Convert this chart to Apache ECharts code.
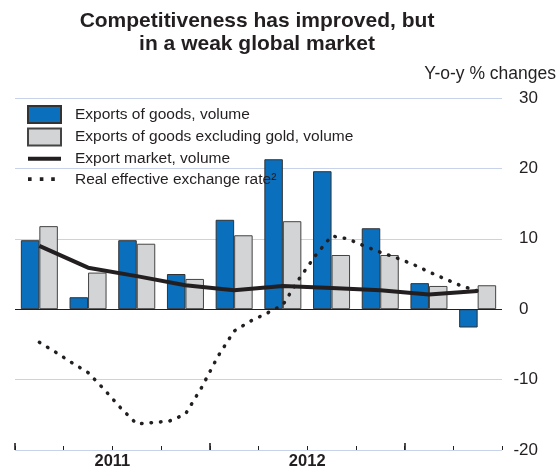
<!DOCTYPE html>
<html>
<head>
<meta charset="utf-8">
<script src="https://cdn.jsdelivr.net/npm/echarts@6/dist/echarts.min.js"></script>
<style>
html,body{margin:0;padding:0;background:#fff;}
#chart{width:559px;height:468px;}
</style>
</head>
<body>
<div id="chart"></div>
<script>
// Quarterly categories (2011 Q1 – 2013 Q2)
var quarters = ['2011Q1','2011Q2','2011Q3','2011Q4','2012Q1','2012Q2','2012Q3','2012Q4','2013Q1','2013Q2'];
// Monthly categories (Jan 2011 – Jun 2013)
var months = ['2011-01','2011-02','2011-03','2011-04','2011-05','2011-06','2011-07','2011-08','2011-09','2011-10','2011-11','2011-12',
              '2012-01','2012-02','2012-03','2012-04','2012-05','2012-06','2012-07','2012-08','2012-09','2012-10','2012-11','2012-12',
              '2013-01','2013-02','2013-03','2013-04','2013-05','2013-06'];
var exportsGoods   = [9.8, 1.7, 9.8, 5.0, 12.7, 21.3, 19.6, 11.5, 3.7, -2.6];
var exportsExGold  = [11.8, 5.2, 9.3, 4.3, 10.5, 12.5, 7.7, 7.7, 3.3, 3.4];
var exportMarket   = [9.0, 5.9, 4.7, 3.4, 2.7, 3.3, 3.0, 2.7, 2.1, 2.6];
var reer = [null, -4.7, -6.1, -7.6, -9.0, -11.4, -14.0, -16.3, -16.1, -15.9, -14.9, -11.1, -6.7,
            -3.1, -1.7, -0.6, 0.6, 4.3, 7.6, 10.4, 10.0, 9.0, 8.1, 7.3, 6.4, 5.3, 4.3, 3.3, 2.6, null];
var yearLabels = {2: '2011', 6: '2012'};
var yTicks = {min: -20, max: 30, interval: 10};

var ink = '#231f20';
var font = 'Liberation Sans';
var solidIcon = 'path://M0,0 L0,0 M0,6.5 H33 V10.5 H0 Z M33,17 L33,17';
var dotIcon = 'path://M0,0 L0,0 M0,6.5 h3.6 v3.6 h-3.6 Z M11.8,6.5 h3.6 v3.6 h-3.6 Z M23.2,6.5 h3.6 v3.6 h-3.6 Z M33,17 L33,17';

var chart = echarts.init(document.getElementById('chart'), null, {renderer: 'canvas'});
chart.setOption({
  animation: false,
  title: [
    {text: 'Competitiveness has improved, but\nin a weak global market', left: 257, top: 10, textAlign: 'center', padding: 0,
     textStyle: {fontFamily: font, fontWeight: 'bold', fontSize: 21, lineHeight: 23, color: ink}},
    {text: 'Y-o-y % changes', right: 3, top: 65, padding: 0,
     textStyle: {fontFamily: font, fontWeight: 'normal', fontSize: 17.5, color: ink}}
  ],
  legend: {
    orient: 'vertical', left: 27, top: 105, padding: 0, itemWidth: 33, itemHeight: 17, itemGap: 3.6,
    textStyle: {fontFamily: font, fontSize: 15.5, lineHeight: 17, color: ink, padding: [0, 0, 0, 9]},
    data: [
      {name: 'Exports of goods, volume', icon: 'rect'},
      {name: 'Exports of goods excluding gold, volume', icon: 'rect'},
      {name: 'Export market, volume', icon: solidIcon, itemStyle: {color: ink, borderWidth: 0}},
      {name: 'Real effective exchange rate²', icon: dotIcon, itemStyle: {color: ink, borderWidth: 0}}
    ]
  },
  grid: {left: 15, right: 57, top: 98, bottom: 18, outerBoundsMode: 'none', containLabel: false},
  xAxis: [
    {type: 'category', data: quarters, gridIndex: 0, position: 'bottom',
     axisLine: {show: false, onZero: false}, axisLabel: {show: false}, splitLine: {show: false},
     axisTick: {show: true, inside: true, length: 4, interval: 0, lineStyle: {color: ink, width: 1}}},
    {type: 'category', data: months, gridIndex: 0, show: false,
     axisLine: {show: false, onZero: false}, axisTick: {show: false}, axisLabel: {show: false}, splitLine: {show: false}},
    {type: 'value', min: 0, max: 10, gridIndex: 0, position: 'bottom',
     axisLine: {show: false, onZero: false}, splitLine: {show: false},
     axisTick: {show: true, inside: true, length: 7, customValues: [0, 4, 8], lineStyle: {color: ink, width: 1.6}},
     axisLabel: {show: true, customValues: [2, 6], margin: 3,
       formatter: function (v) { return yearLabels[v] || ''; },
       fontFamily: font, fontWeight: 'bold', fontSize: 16.5, color: ink}}
  ],
  yAxis: [{
    type: 'value', position: 'right', min: yTicks.min, max: yTicks.max, interval: yTicks.interval,
    axisLine: {show: false}, axisTick: {show: false},
    splitLine: {show: true, lineStyle: {color: '#c8d2ea', width: 1}},
    axisLabel: {align: 'right', margin: 36, fontFamily: font, fontSize: 17, color: ink,
      formatter: function (v) { return v === 0 ? '{z|0}' : String(v); },
      rich: {z: {fontFamily: font, fontSize: 17, color: ink, padding: [0, 9.5, 0, 0]}}}
  }],
  series: [
    {name: 'Exports of goods, volume', type: 'bar', xAxisIndex: 0, yAxisIndex: 0, data: exportsGoods,
     barGap: '0%', barCategoryGap: '24%',
     itemStyle: {color: '#0a6fbc', borderColor: '#333333', borderWidth: 1},
     markLine: {silent: true, symbol: 'none', label: {show: false}, animation: false,
       lineStyle: {color: ink, width: 1.2, type: 'solid'}, data: [{yAxis: 0}]}},
    {name: 'Exports of goods excluding gold, volume', type: 'bar', xAxisIndex: 0, yAxisIndex: 0, data: exportsExGold,
     barGap: '0%', barCategoryGap: '24%',
     itemStyle: {color: '#d3d4d6', borderColor: '#444444', borderWidth: 1}},
    {name: 'Export market, volume', type: 'line', xAxisIndex: 0, yAxisIndex: 0, data: exportMarket,
     symbol: 'none', z: 4, lineStyle: {color: ink, width: 4}, itemStyle: {color: ink}},
    {name: 'Real effective exchange rate²', type: 'line', xAxisIndex: 1, yAxisIndex: 0, data: reer,
     symbol: 'none', z: 5, connectNulls: false,
     lineStyle: {color: ink, width: 3.5, type: [0.5, 9], cap: 'round'}, itemStyle: {color: ink}}
  ]
});
</script>
</body>
</html>
